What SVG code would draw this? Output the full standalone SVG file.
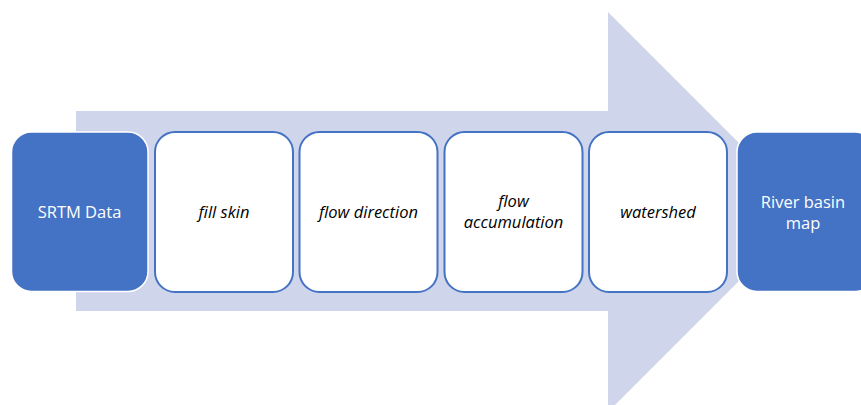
<svg xmlns="http://www.w3.org/2000/svg" width="861" height="405" viewBox="0 0 861 405">
<style>
.dark{fill:#4472C4;stroke:#ffffff;stroke-width:1.5}
.light{fill:#ffffff;stroke:#4472C4;stroke-width:2}
.t{font-family:"Open Sans","Liberation Sans",sans-serif;font-size:16.5px;text-anchor:middle}
.w{fill:#ffffff}
.k{fill:#000000;font-style:italic}
</style>
<rect width="861" height="405" fill="#ffffff"/>
<g id="connectors">
<polygon points="76,111 608,111 608,12 808,212 608,412 608,311 76,311" fill="#CFD5EA"/>
</g>
<g id="srtm">
<rect class="dark" x="11.5" y="132" width="136.5" height="159.5" rx="20"/>
<text class="t w" x="79.5" y="218">SRTM Data</text>
</g>
<g id="fillskin">
<rect class="light" x="155" y="132" width="138" height="160" rx="20"/>
<text class="t k" x="224" y="218">fill skin</text>
</g>
<g id="flowdir">
<rect class="light" x="299.5" y="132" width="138" height="160" rx="20"/>
<text class="t k" x="368.5" y="218">flow direction</text>
</g>
<g id="flowacc">
<rect class="light" x="444.5" y="132" width="138" height="160" rx="20"/>
<text class="t k" x="513.5" y="207">flow</text>
<text class="t k" x="513.5" y="228">accumulation</text>
</g>
<g id="watershed">
<rect class="light" x="589" y="132" width="138" height="160" rx="20"/>
<text class="t k" x="658" y="218">watershed</text>
</g>
<g id="riverbasin">
<rect class="dark" x="737" y="132" width="138" height="159.5" rx="20"/>
<text class="t w" x="803" y="208">River basin</text>
<text class="t w" x="803" y="229">map</text>
</g>
</svg>
